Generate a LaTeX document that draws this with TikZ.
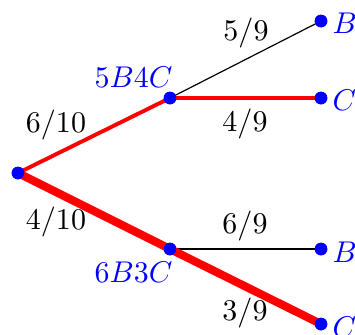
\documentclass[tikz,border=0pt]{standalone}
\begin{document}
\begin{tikzpicture}[x=0.3333pt,y=-0.3333pt,
  dot/.style={circle,fill=blue,inner sep=0pt,minimum size=4.2pt},
  lbl/.style={inner sep=0pt,text=black},
  blbl/.style={inner sep=0pt,text=blue},
  thinedge/.style={black,line width=0.4pt},
  rededge/.style={red,line width=1.3pt},
  thickedge/.style={red,line width=2.7pt}]
\useasboundingbox (0,0) rectangle (355,334);
\node[dot] (r) at (18,173) {};
\node[dot] (a) at (170,98) {};
\node[dot] (d) at (170,249) {};
\node[dot] (b1) at (321,21) {};
\node[dot] (c1) at (321,98) {};
\node[dot] (b2) at (321,249) {};
\node[dot] (c2) at (321,324) {};
\draw[rededge] (r.center) -- (a.center);
\draw[thickedge] (r.center) -- (d.center);
\draw[thinedge] (a.center) -- (b1.center);
\draw[rededge] (a.center) -- (c1.center);
\draw[thinedge] (d.center) -- (b2.center);
\draw[thickedge] (d.center) -- (c2.center);
\node[dot] at (r) {};
\node[dot] at (a) {};
\node[dot] at (d) {};
\node[dot] at (b1) {};
\node[dot] at (c1) {};
\node[dot] at (b2) {};
\node[dot] at (c2) {};
\node[lbl] (l610) at (56,125) {$6/10$};
\node[lbl] (l410) at (56,222) {$4/10$};
\node[lbl] (l59) at (246,33) {$5/9$};
\node[lbl] (l49) at (245,124) {$4/9$};
\node[lbl] (l69) at (245,226) {$6/9$};
\node[lbl] (l39) at (245,313) {$3/9$};
\node[blbl,anchor=east] (na) at (173,77) {$5B4C$};
\node[blbl,anchor=east] (nd) at (173,272) {$6B3C$};
\node[blbl,anchor=west] (tb1) at (332,23) {$B$};
\node[blbl,anchor=west] (tc1) at (332,100) {$C$};
\node[blbl,anchor=west] (tb2) at (332,252) {$B$};
\node[blbl,anchor=west] (tc2) at (332,327) {$C$};
\end{tikzpicture}
\end{document}
